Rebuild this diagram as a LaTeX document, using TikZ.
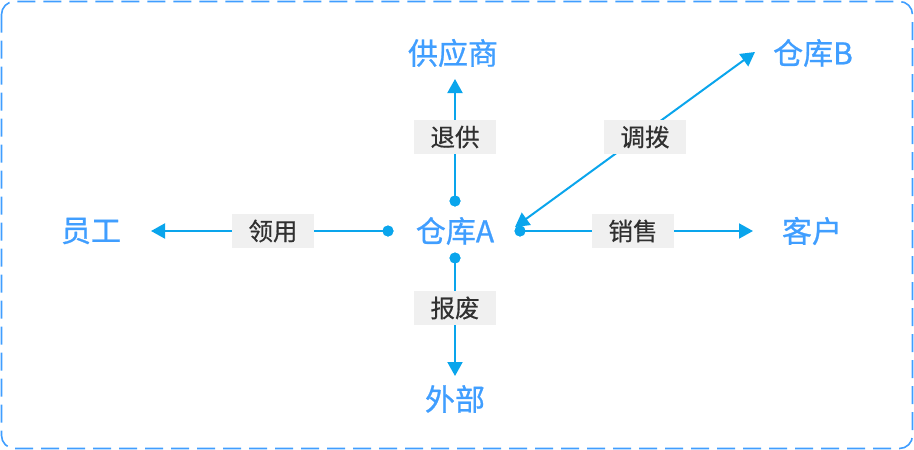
\documentclass[tikz,border=0pt]{standalone}
\usepackage{fontspec}
\setmainfont{Noto Sans CJK SC}
\newfontfamily\medfont[FakeBold=0.8]{Noto Sans CJK SC}
\newfontfamily\labfont[FakeBold=0.5]{Noto Sans CJK SC}
\usetikzlibrary{arrows.meta}
\definecolor{txtblue}{HTML}{409EFF}
\definecolor{lineblue}{HTML}{0AA5EC}
\definecolor{labbg}{HTML}{F0F0F0}
\definecolor{labtxt}{HTML}{303030}
\tikzset{
  x=1pt,y=-1pt,
  place/.style={text=txtblue,font=\medfont\fontsize{30}{32}\selectfont,inner sep=0pt},
  lab/.style={fill=labbg,text=labtxt,font=\labfont\fontsize{24.5}{26}\selectfont,minimum width=82pt,minimum height=34pt,inner sep=0pt},
  conn/.style={draw=lineblue,line width=2pt,-{Triangle[length=14pt,width=15pt]}},
  dot/.style={circle,fill=lineblue,inner sep=0pt,minimum size=11pt},
}
\begin{document}
\begin{tikzpicture}
\useasboundingbox (0,0) rectangle (914,450);
\draw[draw=txtblue,line width=1.6pt,dash pattern=on 18pt off 8pt,rounded corners=13pt] (1.5,1.5) rectangle (912.5,448.5);
% places
\node[place] (A) at (455,231) {仓库A};
\node[place] (S) at (453,53) {供应商};
\node[place] (B) at (813,53) {仓库B};
\node[place] (E) at (91,231) {员工};
\node[place] (C) at (812,231) {客户};
\node[place] (O) at (455,399) {外部};
% dots
\node[dot] (dU) at (455,201) {};
\node[dot] (dD) at (455,258) {};
\node[dot] (dL) at (388,231) {};
\node[dot] (dR) at (520,231) {};
% arrow endpoints
\coordinate (tU) at (455,79);
\coordinate (tD) at (455,376);
\coordinate (tL) at (151,231);
\coordinate (tR) at (753,231);
\coordinate (tB) at (755,52);
\coordinate (tA) at (515,227);
% connectors
\draw[conn] (dU.center) -- (tU);
\draw[conn] (dD.center) -- (tD);
\draw[conn] (dL.center) -- (tL);
\draw[conn] (dR.center) -- (tR);
\draw[conn,{Triangle[length=14pt,width=15pt]}-{Triangle[length=14pt,width=15pt]}] (tA) -- (tB);
% redraw dots over lines
\node[dot] at (dU) {};
\node[dot] at (dD) {};
\node[dot] at (dL) {};
\node[dot] at (dR) {};
% labels
\node[lab] (l1) at (455,137) {退供};
\node[lab] (l2) at (455,308) {报废};
\node[lab] (l3) at (273,231) {领用};
\node[lab] (l4) at (633,231) {销售};
\node[lab] (l5) at (645,137) {调拨};
\end{tikzpicture}
\end{document}
